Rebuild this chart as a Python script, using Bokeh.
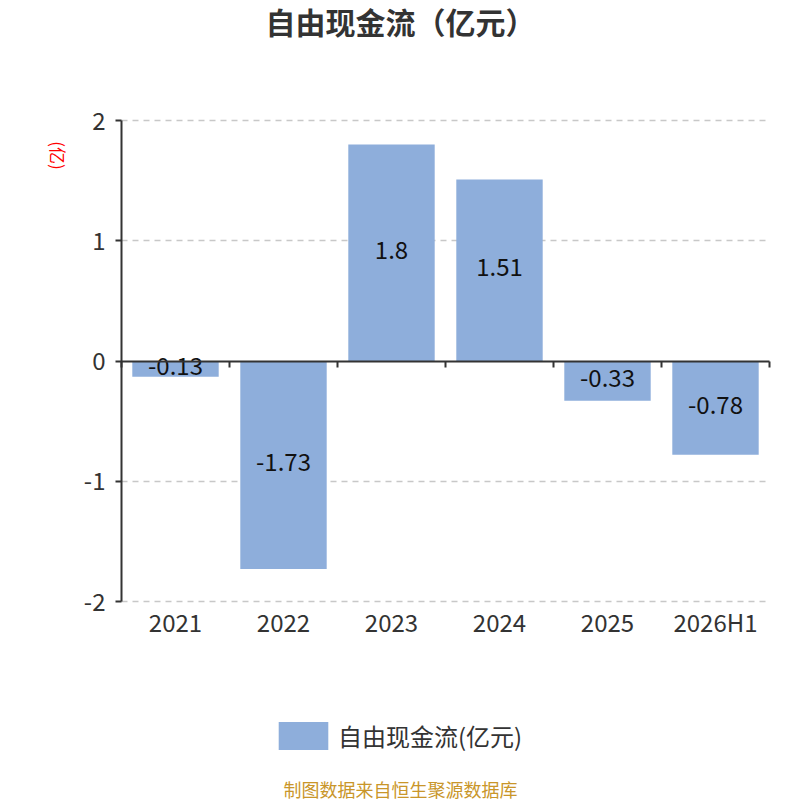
from bokeh.plotting import figure
from bokeh.models import (Range1d, FixedTicker, Legend, LegendItem, Label,
                          ColumnDataSource, LinearAxis, Grid)
from bokeh.embed import file_html
from bokeh.resources import INLINE
from bokeh.core.properties import value

# ---- data ----
categories = ["2021", "2022", "2023", "2024", "2025", "2026H1"]
values = [-0.13, -1.73, 1.8, 1.51, -0.33, -0.78]
value_labels = ["-0.13", "-1.73", "1.8", "1.51", "-0.33", "-0.78"]
y_ticks = [-2, -1, 0, 1, 2]
y_tick_labels = ["-2", "-1", "0", "1", "2"]
grid_ticks = [-2, -1, 1, 2]
title_text = "自由现金流（亿元）"
series_name = "自由现金流(亿元)"
unit_text = "(亿)"
source_text = "制图数据来自恒生聚源数据库"

# ---- layout / style constants (pixels) ----
FONT = "Noto Sans CJK SC"
BAR_COLOR = "#8eaedb"
AXIS_COLOR = "#333333"
CW, CH = 800, 800                 # canvas
PL, PR, PT, PB = 121, 769, 120, 601   # plot area edges

n = len(categories)
xs = list(range(n))
bounds = [i - 0.5 for i in range(n + 1)]
ymin, ymax = y_ticks[0], y_ticks[-1]

px_x = (PR - PL) / n
px_y = (PB - PT) / (ymax - ymin)
x_range = Range1d(-0.5 - PL / px_x, n - 0.5 + (CW - PR) / px_x)
y_range = Range1d(ymin - (CH - PB) / px_y, ymax + PT / px_y)

p = figure(width=CW, height=CH, output_backend="svg", toolbar_location=None,
           x_range=x_range, y_range=y_range,
           x_axis_location=None, y_axis_location=None, min_border=0)
p.outline_line_color = None
p.background_fill_color = "white"
p.border_fill_color = "white"
for g in p.grid:
    g.visible = False

# horizontal dashed grid
p.add_layout(Grid(dimension=1, ticker=FixedTicker(ticks=grid_ticks),
                  cross_bounds=(-0.5, n - 0.5), grid_line_color="#c8c8c8",
                  grid_line_dash="6 5", grid_line_width=1.5))

# bars
src = ColumnDataSource(dict(x=xs, top=values, cat=categories,
                            mid=[v / 2 for v in values], lab=value_labels))
bars = p.vbar(x="x", top="top", bottom=0, width=0.8, source=src,
              fill_color=BAR_COLOR, line_color=None)

# value labels
p.text(x="x", y="mid", text="lab", source=src, text_align="center",
       text_baseline="middle", y_offset=-3, text_font=value(FONT),
       text_font_size="24px", text_color="#111111")

# y axis
yax = LinearAxis(fixed_location=-0.5, bounds=(ymin, ymax),
                 ticker=FixedTicker(ticks=y_ticks),
                 major_label_overrides={t: s for t, s in zip(y_ticks, y_tick_labels)},
                 axis_line_color=AXIS_COLOR, axis_line_width=2,
                 major_tick_line_color=AXIS_COLOR, major_tick_line_width=2,
                 major_tick_out=6, major_tick_in=0, minor_tick_line_color=None,
                 major_label_standoff=10, major_label_text_font=FONT,
                 major_label_text_font_size="24px", major_label_text_color=AXIS_COLOR)
p.add_layout(yax, "left")

# category axis line at zero with boundary ticks
zax = LinearAxis(fixed_location=0, bounds=(-0.5, n - 0.5),
                 ticker=FixedTicker(ticks=bounds),
                 axis_line_color=AXIS_COLOR, axis_line_width=2,
                 major_tick_line_color=AXIS_COLOR, major_tick_line_width=2,
                 major_tick_out=6, major_tick_in=0, minor_tick_line_color=None,
                 major_label_text_color=None)
p.add_layout(zax, "below")

# category labels along the bottom
xax = LinearAxis(fixed_location=ymin, ticker=FixedTicker(ticks=xs),
                 major_label_overrides={i: c for i, c in zip(xs, categories)},
                 axis_line_color=None, major_tick_line_color=None,
                 major_tick_out=0, major_tick_in=0, minor_tick_line_color=None,
                 major_label_standoff=2, major_label_text_font=FONT,
                 major_label_text_font_size="24px", major_label_text_color=AXIS_COLOR)
p.add_layout(xax, "below")

# title, unit, footer
p.add_layout(Label(x=400, y=CH - 20, x_units="screen", y_units="screen",
                   text=title_text, text_align="center", text_baseline="middle",
                   text_font=FONT, text_font_size="30px", text_font_style="bold",
                   text_color=AXIS_COLOR))
p.add_layout(Label(x=58, y=CH - 155, x_units="screen", y_units="screen",
                   text=unit_text, angle=-90, angle_units="deg",
                   text_align="center", text_baseline="middle", text_font=FONT,
                   text_font_size="17px", text_color="#ff0000"))
p.add_layout(Label(x=400, y=CH - 788, x_units="screen", y_units="screen",
                   text=source_text, text_align="center", text_baseline="middle",
                   text_font=FONT, text_font_size="18px", text_color="#c9962a"))

# legend (Bokeh insets the swatch by 10% of the glyph box)
legend = Legend(items=[LegendItem(label=series_name, renderers=[bars])],
                location=(272, CH - 753), orientation="horizontal",
                glyph_width=62, glyph_height=35, label_standoff=4,
                padding=0, margin=0, border_line_color=None,
                background_fill_alpha=0, label_text_font=FONT,
                label_text_font_size="24px", label_text_color=AXIS_COLOR)
p.add_layout(legend, "center")

open("out.html", "w").write(file_html(p, INLINE))
